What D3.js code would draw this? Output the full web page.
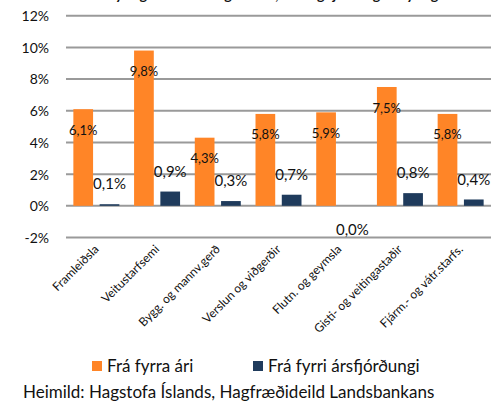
<!DOCTYPE html>
<html lang="is">
<head>
<meta charset="UTF-8">
<script src="https://d3js.org/d3.v7.min.js"></script>
<style>
  body { margin: 0; background: #fff; font-family: Lato, "Open Sans", sans-serif; }
  svg text { fill: #111; }
</style>
</head>
<body>
<div id="chart"></div>
<script>
// gögn
const categories = ["Framleiðsla", "Veitustarfsemi", "Bygg. og mannv.gerð", "Verslun og viðgerðir",
                    "Flutn. og geymsla", "Gisti- og veitingastaðir", "Fjárm.- og vátr.starfs."];
const fraFyrraAri = [6.1, 9.8, 4.3, 5.8, 5.9, 7.5, 5.8];
const fraFyrriArsfj = [0.1, 0.9, 0.3, 0.7, 0.0, 0.8, 0.4];
const seriesNames = ["Frá fyrra ári", "Frá fyrri ársfjórðungi"];
const yTicks = [-2, 0, 2, 4, 6, 8, 10, 12];
const title = "Breyting á veltu eftir greinum, árs- og fjórðungsbreyting";
const source = "Heimild: Hagstofa Íslands, Hagfræðideild Landsbankans";

const W = 496, H = 401;
const colors = ["#FF8527", "#1F3B5C"];
const fmt = v => v.toFixed(1).replace(".", ",") + "%";

const svg = d3.select("#chart").append("svg")
    .attr("width", W).attr("height", H);

// titill (skorinn af efst eins og í fyrirmynd)
svg.append("text")
    .attr("x", 266).attr("y", 0)
    .attr("text-anchor", "middle")
    .style("font-size", "14px").style("font-weight", "bold")
    .text(title);

const x = d3.scaleBand().domain(categories).range([66, 491]);
const y = d3.scaleLinear().domain([-2, 12]).range([237.5, 15.7]);
const xs = d3.scaleBand().domain([0, 1]).range([0, x.bandwidth()])
    .paddingInner(0.25).paddingOuter(0.28);

// hnitalínur
svg.append("g").selectAll("line").data(yTicks).join("line")
    .attr("x1", 66).attr("x2", 491)
    .attr("y1", d => y(d)).attr("y2", d => y(d))
    .attr("stroke", "#9a9a9a").attr("stroke-width", 2);

const yAxis = svg.append("g").attr("transform", "translate(49,0)")
    .call(d3.axisLeft(y).tickValues(yTicks).tickSize(0).tickFormat(d => d + "%"));
yAxis.select(".domain").remove();
yAxis.selectAll("text").attr("x", 0).attr("dy", "0.35em")
    .style("font-size", "14px").style("font-family", "Lato, sans-serif").attr("fill", "#111");

const data = categories.map((c, i) => ({ c, v: [fraFyrraAri[i], fraFyrriArsfj[i]] }));

const groups = svg.append("g").selectAll("g").data(data).join("g")
    .attr("transform", d => `translate(${x(d.c)},0)`);

groups.selectAll("rect").data(d => d.v).join("rect")
    .attr("x", (v, j) => xs(j)).attr("width", xs.bandwidth())
    .attr("y", v => y(Math.max(0, v)))
    .attr("height", v => Math.abs(y(v) - y(0)))
    .attr("fill", (v, j) => colors[j]);

// gagnamerki
groups.selectAll("text.lab").data(d => d.v).join("text")
    .attr("class", "lab")
    .attr("x", (v, j) => xs(j) + xs.bandwidth() / 2)
    .attr("y", (v, j) => j === 0 ? y(v) + 21 : (v === 0 ? y(0) + 24 : y(v) - 20))
    .attr("dy", "0.35em")
    .attr("text-anchor", "middle")
    .style("font-size", (v, j) => j === 0 ? "13px" : "15px")
    .text(v => fmt(v));

// flokkaheiti
svg.append("g").selectAll("text").data(categories).join("text")
    .attr("transform", d => `translate(${x(d) + x.bandwidth() / 2 + 3},250) rotate(-45)`)
    .attr("text-anchor", "end")
    .style("font-size", "12px")
    .text(d => d);

// skýringar
const legX = [92, 253];
const leg = svg.append("g").selectAll("g").data(seriesNames).join("g")
    .attr("transform", (d, i) => `translate(${legX[i]},361)`);
leg.append("rect").attr("width", 10).attr("height", 10).attr("fill", (d, i) => colors[i]);
leg.append("text").attr("x", 15).attr("y", 5).attr("dy", "0.35em")
    .style("font-size", "17px").text(d => d);

svg.append("text").attr("x", 23).attr("y", 392).attr("dy", "0.35em")
    .style("font-size", "17px").text(source);
</script>
</body>
</html>
